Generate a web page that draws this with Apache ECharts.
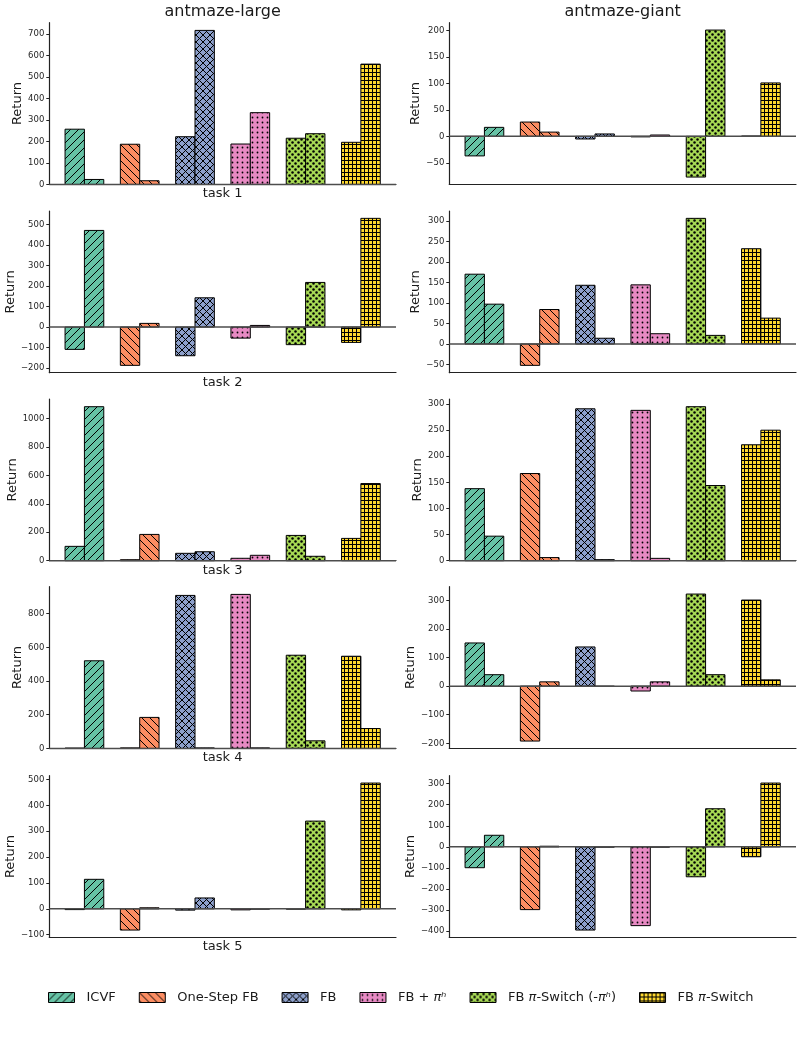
<!DOCTYPE html>
<html>
<head>
<meta charset="utf-8">
<script src="https://cdn.jsdelivr.net/npm/echarts@6/dist/echarts.min.js"></script>
<style>
html,body{margin:0;padding:0;background:#fff;}
#chart{width:803px;height:1045px;}
</style>
</head>
<body>
<div id="chart"></div>
<script>
// ---------------- data ----------------
const envs = ['antmaze-large', 'antmaze-giant'];
const tasks = ['task 1', 'task 2', 'task 3', 'task 4', 'task 5'];
const methods = ['ICVF', 'One-Step FB', 'FB', 'FB + πʰ', 'FB π-Switch (-πʰ)', 'FB π-Switch'];
const methodLabels = ['ICVF', 'One-Step FB', 'FB', 'FB + {i|πʰ}', 'FB {i|π}-Switch (-{i|πʰ})', 'FB {i|π}-Switch'];

// rows = tasks, columns = methods (first / second bar of each pair)
const largeFirst = [
  [257, 187, 222, 188, 215, 196],
  [-109, -187, -140, -54, -86, -75],
  [101, 7, 52, 17, 178, 157],
  [2, 3, 908, 914, 553, 547],
  [-3, -82, -5, -4, -1, -4]
];
const largeSecond = [
  [23, 17, 717, 334, 236, 560],
  [472, 18, 143, 8, 218, 531],
  [1084, 185, 63, 38, 31, 543],
  [520, 184, 3, 3, 45, 118],
  [114, 4, 42, -1, 339, 486]
];
const giantFirst = [
  [-37, 27, -5, -1, -77, 0.5],
  [170, -52, 143, 144, 306, 232],
  [138, 167, 291, 288, 295, 222],
  [151, -192, 137, -17, 322, 301],
  [-99, -298, -395, -374, -142, -47]
];
const giantSecond = [
  [17, 8, 4.5, 2.5, 201, 101],
  [97, 84, 14, 25, 21, 63],
  [47, 6, 2, 4.5, 144, 250],
  [40, 15, -1, 15, 40, 22],
  [55, 3, -1, -1, 181, 303]
];

const largeTicks = [
  [0, 100, 200, 300, 400, 500, 600, 700],
  [-200, -100, 0, 100, 200, 300, 400, 500],
  [0, 200, 400, 600, 800, 1000],
  [0, 200, 400, 600, 800],
  [-100, 0, 100, 200, 300, 400, 500]
];
const giantTicks = [
  [-50, 0, 50, 100, 150, 200],
  [-50, 0, 50, 100, 150, 200, 250, 300],
  [0, 50, 100, 150, 200, 250, 300],
  [-200, -100, 0, 100, 200, 300],
  [-400, -300, -200, -100, 0, 100, 200, 300]
];

// ---------------- styles / layout ----------------
const colors = ['#66c2a5', '#fc8d62', '#8da0cb', '#e78ac3', '#a6d854', '#ffd92f'];
const FONT = 'DejaVu Sans';
const BAR_W = 0.35;
const X_PAD = 0.05 * (methods.length - 1 + 2 * BAR_W);
const X_MIN = -BAR_W - X_PAD;
const X_MAX = methods.length - 1 + BAR_W + X_PAD;

const GRID_LEFT = [49.3, 449.3];
const GRID_W = 346.7;
const GRID_TOP = [22.7, 211, 399, 586.7, 775.7];
const GRID_H = 161.7;

function tile(w, h, bg, draw) {
  const c = document.createElement('canvas');
  c.width = w; c.height = h;
  const ctx = c.getContext('2d');
  ctx.fillStyle = bg; ctx.fillRect(0, 0, w, h);
  ctx.strokeStyle = '#000'; ctx.fillStyle = '#000'; ctx.lineWidth = 1;
  draw(ctx, w, h);
  return { image: c, repeat: 'repeat' };
}
const patterns = [
  tile(8, 8, colors[0], (ctx, s) => { ctx.beginPath(); for (let k = -1; k <= 1; k++) { ctx.moveTo(k * s, s); ctx.lineTo(k * s + s, 0); } ctx.stroke(); }),
  tile(8, 8, colors[1], (ctx, s) => { ctx.beginPath(); for (let k = -1; k <= 1; k++) { ctx.moveTo(k * s, 0); ctx.lineTo(k * s + s, s); } ctx.stroke(); }),
  tile(7, 7, colors[2], (ctx, s) => { ctx.beginPath(); for (let k = -1; k <= 1; k++) { ctx.moveTo(k * s, s); ctx.lineTo(k * s + s, 0); ctx.moveTo(k * s, 0); ctx.lineTo(k * s + s, s); } ctx.stroke(); }),
  tile(5, 5, colors[3], (ctx) => { ctx.beginPath(); ctx.arc(2.5, 2.5, 0.9, 0, Math.PI * 2); ctx.fill(); }),
  tile(6, 6, colors[4], (ctx) => { ctx.beginPath(); ctx.arc(1.5, 1.5, 1.25, 0, Math.PI * 2); ctx.fill(); ctx.beginPath(); ctx.arc(4.5, 4.5, 1.25, 0, Math.PI * 2); ctx.fill(); }),
  tile(4, 4, colors[5], (ctx) => { ctx.fillRect(0, 0, 4, 1); ctx.fillRect(0, 0, 1, 4); })
];

function limits(a, b) {
  const all = a.concat(b);
  const lo = Math.min(0, ...all), hi = Math.max(0, ...all);
  const r = hi - lo;
  return [lo < 0 ? lo - 0.05 * r : 0, hi > 0 ? hi + 0.05 * r : 0];
}
const fmt = v => String(v).replace('-', '\u2212');

const grids = [], xAxes = [], yAxes = [], series = [];
const firsts = [largeFirst, giantFirst], seconds = [largeSecond, giantSecond], ticks = [largeTicks, giantTicks];

tasks.forEach((task, t) => {
  envs.forEach((env, e) => {
    const gi = grids.length;
    grids.push({ left: GRID_LEFT[e], top: GRID_TOP[t], width: GRID_W, height: GRID_H, containLabel: false });
    const a = firsts[e][t], b = seconds[e][t];
    const [ymin, ymax] = limits(a, b);
    const tv = ticks[e][t];
    const maxLen = Math.max(...tv.map(v => fmt(v).length));
    xAxes.push({
      type: 'value', gridIndex: gi, min: X_MIN, max: X_MAX,
      axisLine: { show: true, onZero: false, lineStyle: { color: '#222', width: 1.2 } },
      axisTick: { show: false }, axisLabel: { show: false }, splitLine: { show: false },
      name: e === 0 ? task : '', nameLocation: 'middle', nameGap: 3,
      nameTextStyle: { fontFamily: FONT, fontSize: 13, color: '#1a1a1a', verticalAlign: 'top' }
    });
    yAxes.push({
      type: 'value', gridIndex: gi, min: ymin, max: ymax,
      axisLine: { show: true, onZero: false, lineStyle: { color: '#222', width: 1.2 } },
      axisTick: { show: true, length: 3, customValues: tv, lineStyle: { color: '#222', width: 1 } },
      axisLabel: { customValues: tv, formatter: fmt, fontFamily: FONT, fontSize: 8.5, color: '#262626', margin: 5 },
      splitLine: { show: false },
      name: 'Return', nameLocation: 'middle', nameRotate: 90, nameGap: 6 + 6 * maxLen,
      nameTextStyle: { fontFamily: FONT, fontSize: 13, color: '#1a1a1a' }
    });
    methods.forEach((m, i) => {
      const pat = patterns[i];
      series.push({
        type: 'custom', name: m, xAxisIndex: gi, yAxisIndex: gi,
        itemStyle: { color: pat },
        data: [[i - BAR_W / 2, a[i]], [i + BAR_W / 2, b[i]]],
        renderItem: (params, api) => {
          const x = api.value(0), v = api.value(1);
          const p0 = api.coord([x - BAR_W / 2, 0]);
          const p1 = api.coord([x + BAR_W / 2, v]);
          return {
            type: 'rect',
            shape: { x: p0[0], y: Math.min(p0[1], p1[1]), width: p1[0] - p0[0], height: Math.abs(p1[1] - p0[1]) },
            style: { fill: pat, stroke: '#000', lineWidth: 1 }
          };
        },
        animation: false, silent: true
      });
    });
    series.push({
      type: 'custom', name: 'zero', xAxisIndex: gi, yAxisIndex: gi, data: [[0, 0]],
      renderItem: (params, api) => {
        const p0 = api.coord([X_MIN, 0]), p1 = api.coord([X_MAX, 0]);
        return { type: 'line', shape: { x1: p0[0], y1: p0[1], x2: p1[0], y2: p1[1] }, style: { stroke: '#4d4d4d', lineWidth: 1.5 } };
      },
      animation: false, silent: true, z: 5
    });
  });
});

const chart = echarts.init(document.getElementById('chart'), null, { renderer: 'canvas' });
chart.setOption({
  backgroundColor: '#fff',
  animation: false,
  title: envs.map((env, e) => ({
    text: env, left: GRID_LEFT[e] + GRID_W / 2, top: 4, padding: 0, textAlign: 'center',
    textStyle: { fontFamily: FONT, fontSize: 16, fontWeight: 'normal', color: '#1a1a1a' }
  })),
  legend: {
    data: methods.map((m, i) => ({ name: m, icon: 'rect', itemStyle: { color: patterns[i], borderColor: '#000', borderWidth: 1 } })),
    top: 991, left: 48, itemWidth: 26, itemHeight: 10, itemGap: 23, padding: 0,
    selectedMode: false,
    formatter: name => methodLabels[methods.indexOf(name)],
    textStyle: { fontFamily: FONT, fontSize: 13, color: '#1a1a1a', padding: [0, 0, 0, 7],
      rich: { i: { fontFamily: FONT, fontSize: 13, fontStyle: 'italic', color: '#1a1a1a' } } }
  },
  grid: grids, xAxis: xAxes, yAxis: yAxes, series: series
});
</script>
</body>
</html>
